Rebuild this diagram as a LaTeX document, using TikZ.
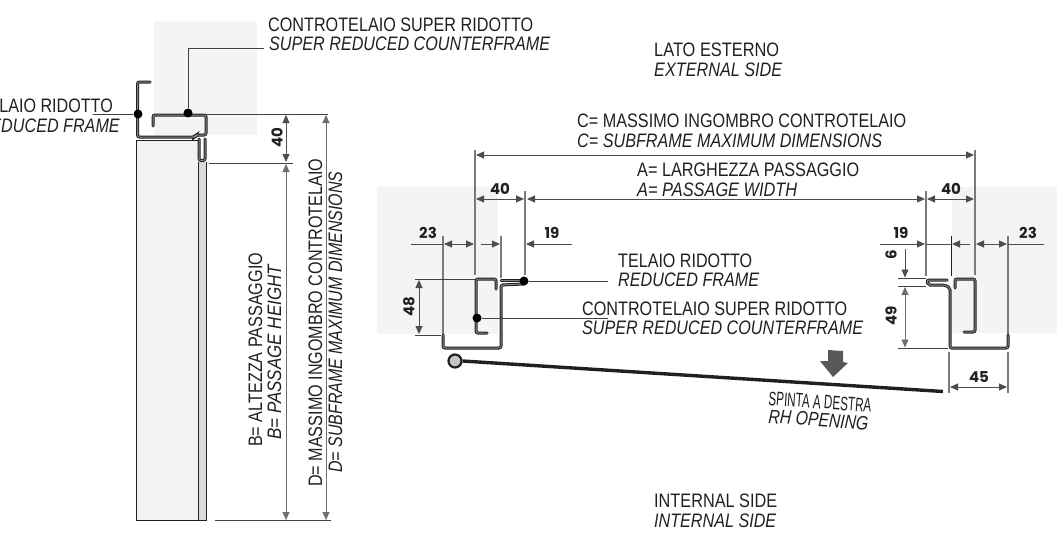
\documentclass[tikz,border=0pt]{standalone}
\usepackage{fontspec}
\setmainfont{Liberation Sans}
\newfontfamily\numfont{Poppins}
\usetikzlibrary{arrows.meta}
\definecolor{panel}{HTML}{F4F4F5}
\definecolor{doorf}{HTML}{F1F2F4}
\definecolor{doore}{HTML}{D9DADC}
\definecolor{ink}{HTML}{231F20}
\newcommand\fw[2]{\resizebox{#1pt}{\height}{#2}}
\tikzset{
  lab/.style={anchor=base west,inner sep=0pt,font=\fontsize{19.5}{20}\selectfont,text=ink},
  labi/.style={lab,font=\fontsize{19.5}{20}\selectfont\itshape},
  num/.style={inner sep=0pt,font=\numfont\bfseries\fontsize{15}{15}\selectfont,text=ink},
  thin line/.style={draw=ink!85,line width=.8pt},
  dim/.style={draw=ink!80,line width=.9pt},
  ext/.style={draw=ink!60,line width=1.1pt},
  dimboth/.style={dim,{Triangle[length=8pt,width=7pt]}-{Triangle[length=8pt,width=7pt]}},
  dimto/.style={dim,-{Triangle[length=8pt,width=7pt]}},
  profile/.style={draw=ink,line width=1pt,double=ink!55,double distance=1pt,rounded corners=2pt,line cap=round},
  blob/.style={circle,fill=black,inner sep=0pt,minimum size=9pt},
}
\begin{document}
\begin{tikzpicture}[x=1pt,y=-1pt]
\useasboundingbox (0,0) rectangle (1057,535);
\clip (0,0) rectangle (1057,535);
% panels
\fill[panel] (154,21) rectangle (257,135);
\fill[panel] (377,187) rectangle (498,334);
\fill[panel] (952,187) rectangle (1057,333);
% LEFT: door
\fill[doorf] (136,140) rectangle (198,521);
\fill[doore] (198,162) rectangle (206,521);
\draw[ink,line width=.9pt] (198,162) -- (198,521) (206,162) -- (206,521);
\draw[ink,line width=.9pt] (198,140) -- (136,140) -- (136,520.5) -- (206,520.5);
\draw[profile] (199,139) -- (199,160.5) -- (205,160.5) -- (205,139);
% LEFT: frame profiles
\draw[profile] (150,82) -- (137.5,82) -- (137.5,137) -- (195,137) -- (196,135) -- (206,135) -- (206,115) -- (153,115) -- (153,126);
% LEFT: leaders
\node[blob] (fdot) at (138,114) {};
\node[blob] (cdot) at (188,113) {};
\coordinate (ftxt) at (93,114);
\coordinate (ccor) at (188,48);
\coordinate (ctxt) at (264,48);
\draw[thin line] (ftxt) -- (fdot);
\draw[thin line] (cdot) -- (ccor) -- (ctxt);
% LEFT: dimensions
\draw[thin line] (205,114) -- (328,114);
\draw[thin line] (209,163) -- (293,163);
\draw[thin line] (215,520.5) -- (331,520.5);
\draw[dimboth] (286,115) -- (286,162);
\draw[dimboth,draw=ink!65] (286,164) -- (286,520);
\draw[dimboth,draw=ink!65] (326,115) -- (326,520);
\node[num,rotate=90] (n40a) at (277,138) {40};
% LEFT: texts
\node[lab] (t1) at (268,32) {\fw{265}{CONTROTELAIO SUPER RIDOTTO}};
\node[labi] (t2) at (269,51) {\fw{281}{SUPER REDUCED COUNTERFRAME}};
\node[lab,anchor=base east] (t3) at (113,112) {\fw{134}{TELAIO RIDOTTO}};
\node[labi,anchor=base east] (t4) at (120,132) {\fw{141}{REDUCED FRAME}};
\node[lab,rotate=90] (t5) at (262,447) {\fw{194}{B= ALTEZZA PASSAGGIO}};
\node[labi,rotate=90] (t6) at (281,440) {\fw{175}{B= PASSAGE HEIGHT}};
\node[lab,rotate=90] (t7) at (322,487) {\fw{328}{D= MASSIMO INGOMBRO CONTROTELAIO}};
\node[labi,rotate=90] (t8) at (342,473) {\fw{301}{D= SUBFRAME MAXIMUM DIMENSIONS}};
% RIGHT: texts
\node[lab] (r1) at (654,57) {\fw{125}{LATO ESTERNO}};
\node[labi] (r2) at (654,77) {\fw{128}{EXTERNAL SIDE}};
\node[lab] (r3) at (577,127) {\fw{329}{C= MASSIMO INGOMBRO CONTROTELAIO}};
\node[labi] (r4) at (577,147) {\fw{305}{C= SUBFRAME MAXIMUM DIMENSIONS}};
\node[lab] (r5) at (637,176) {\fw{222}{A= LARGHEZZA PASSAGGIO}};
\node[labi] (r6) at (637,196) {\fw{160}{A= PASSAGE WIDTH}};
\node[lab] (r7) at (618,267) {\fw{134}{TELAIO RIDOTTO}};
\node[labi] (r8) at (618,286) {\fw{141}{REDUCED FRAME}};
\node[lab] (r9) at (582,315) {\fw{265}{CONTROTELAIO SUPER RIDOTTO}};
\node[labi] (r10) at (582,334) {\fw{281}{SUPER REDUCED COUNTERFRAME}};
\node[lab,rotate=-4] (r11) at (768,405) {\fw{103}{SPINTA A DESTRA}};
\node[labi,rotate=-4] (r12) at (768,423) {\fw{100}{RH OPENING}};
\node[lab] (r13) at (654,507) {\fw{123}{INTERNAL SIDE}};
\node[labi] (r14) at (654,527) {\fw{122}{INTERNAL SIDE}};
% RIGHT: extension lines
\draw[ext] (475,150) -- (475,275);
\draw[ext] (975,150) -- (975,275);
\draw[ext] (525,191) -- (525,275);
\draw[ext] (926,191) -- (926,276);
\draw[ext] (443,236) -- (443,334);
\draw[ext] (501,236) -- (501,278);
\draw[ink,line width=.9pt] (951,236) -- (951,276);
\draw[ext] (1008,236) -- (1008,334);
\draw[ext] (949,352) -- (949,393);
\draw[ext] (1008,352) -- (1008,393);
% RIGHT: dimension rows
\draw[dimboth] (476,155) -- (974,155);
\draw[dimboth] (476,199) -- (524,199);
\draw[dimboth] (527,199) -- (925,199);
\draw[dimboth] (927,199) -- (974,199);
\node[num] (n40b) at (500,189) {40};
\node[num] (n40c) at (951,189) {40};
\draw[dimboth] (444,244) -- (474,244);
\draw[dim] (411,244) -- (443,244);
\draw[dimto] (481,244) -- (500,244);
\draw[dim,{Triangle[length=8pt,width=7pt]}-] (526,244) -- (572,244);
\draw[dimto] (880,244) -- (925,244);
\draw[dim] (926,244) -- (951,244);
\draw[dim,{Triangle[length=8pt,width=7pt]}-] (952,244) -- (970,244);
\draw[dimboth] (976,244) -- (1007,244);
\draw[dim] (1008,244) -- (1044,244);
\node[num] (n23a) at (428,233) {23};
\node[num] (n19a) at (552,233) {19};
\node[num] (n19b) at (901,233) {19};
\node[num] (n23b) at (1028,233) {23};
% 48
\draw[thin line] (415,279) -- (475,279);
\draw[thin line] (415,335) -- (441,335);
\draw[dimboth] (419,280) -- (419,334);
\node[num,rotate=90] (n48) at (409,307) {48};
% 6 / 49
\draw[thin line] (898,278) -- (926,278);
\draw[thin line] (898,286.5) -- (926,286.5);
\draw[thin line] (898,348) -- (948,348);
\draw[dimto] (905,249) -- (905,277.5);
\draw[dimboth,draw=ink!65] (905,287) -- (905,347.5);
\node[num,rotate=90] (n6) at (891,255) {6};
\node[num,rotate=90] (n49) at (891,316) {49};
% 45
\draw[dimboth] (950,387) -- (1007,387);
\node[num] (n45) at (979,377) {45};
% RIGHT: left profile
\draw[profile] (487,333) -- (476,333) -- (476,279) -- (496,279) -- (496,289);
\draw[profile] (443,335) -- (443,348) -- (501,348) -- (501,285) -- (524,284);
\draw[profile] (501,280) -- (524,280);
\node[blob] (ldot1) at (524,281) {};
\node[blob] (ldot2) at (477,318) {};
\coordinate (lt1) at (608,281);
\coordinate (lt2) at (608,318);
\draw[thin line] (ldot1) -- (lt1);
\draw[thin line] (ldot2) -- (lt2);
% RIGHT: right profile
\draw[profile] (964,332) -- (975,332) -- (975,279) -- (955,279) -- (955,288);
\draw[profile] (1008,335) -- (1008,348) -- (950,348) -- (950,288) -- (945,285) -- (928,285) -- (927,280) -- (947,280);
% door leaf and pivot
\coordinate (leafend) at (943,391.5);
\node[circle,draw=ink,line width=2.2pt,fill=doore!90!black,minimum size=13pt,inner sep=0pt] (pivot) at (455,361) {};
\draw[ink,line width=3.4pt] (pivot.east) -- (leafend);
% push arrow
\fill[ink!75] (828,350) -- (843,351) -- (843,362) -- (848,363) -- (833,377) -- (820,361) -- (828,361) -- cycle;
\end{tikzpicture}
\end{document}
